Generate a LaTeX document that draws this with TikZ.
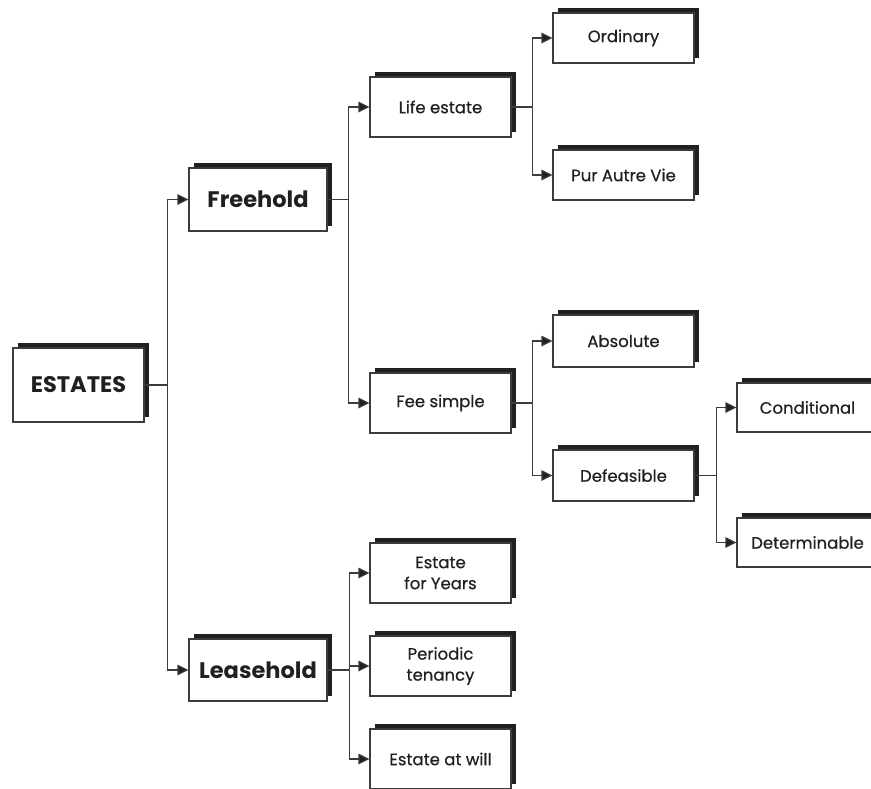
\documentclass[tikz,border=0pt]{standalone}
\usepackage{fontspec}
\setmainfont{Poppins}
\newfontfamily\medfont{Poppins}[FakeBold=0.5]
\usetikzlibrary{arrows.meta,shadows,calc}
\definecolor{ink}{HTML}{231F20}
\definecolor{edge}{HTML}{3C3C3C}
\begin{document}
\begin{tikzpicture}[x=1pt,y=-1pt,
  box/.style={draw=edge,line width=1.1pt,fill=white,text=ink,inner sep=0pt,
    minimum width=141pt,minimum height=60pt,align=center,font=\medfont\fontsize{16.5}{21}\selectfont,
    general shadow={fill=ink,shadow xshift=4.5pt,shadow yshift=5pt}},
  bigbox/.style={box,font=\fontsize{22.5}{24}\selectfont\bfseries},
  small/.style={box,minimum height=50pt},
  conn/.style={draw=edge,line width=1.1pt},
  arr/.style={conn,-{Triangle[length=11pt,width=10.5pt,fill=ink]}}]
\useasboundingbox (0,0) rectangle (871,788);
\fill[white] (0,0) rectangle (871,788);
\begin{scope}
\clip (0,0) rectangle (871,788);
\node[bigbox,minimum width=131pt,minimum height=74pt] (est) at (78.5,385) {ESTATES};
\node[bigbox,minimum width=138pt,minimum height=63pt] (free) at (258,199.5) {Freehold};
\node[bigbox,minimum width=138pt,minimum height=62pt] (lease) at (258,670) {Leasehold};
\node[box] (life) at (440.5,107) {Life estate};
\node[box] (fee) at (440.5,403) {Fee simple};
\node[box] (efy) at (440.5,573) {Estate\\for Years};
\node[box] (per) at (440.5,666) {Periodic\\tenancy};
\node[box] (eaw) at (440.5,759) {Estate at will};
\node[small] (ord) at (623.5,38) {Ordinary};
\node[small] (pav) at (623.5,175) {Pur Autre Vie};
\node[small,minimum height=52pt] (abs) at (623.5,341) {Absolute};
\node[small,minimum height=51pt] (def) at (623.5,475.5) {Defeasible};
\node[small,minimum height=49pt] (cond) at (807.5,407.5) {Conditional};
\node[small,minimum height=49pt] (det) at (807.5,542.5) {Determinable};

\draw[conn] (est.east) -- ++(23,0) coordinate (j0);
\draw[arr] (j0) |- (free.west);
\draw[arr] (j0) |- (lease.west);
\draw[conn] (free.east) -- ++(21,0) coordinate (j1);
\draw[arr] (j1) |- (life.west);
\draw[arr] (j1) |- (fee.west);
\draw[conn] (life.east) -- ++(21,0) coordinate (j2);
\draw[arr] (j2) |- (ord.west);
\draw[arr] (j2) |- (pav.west);
\draw[conn] (fee.east) -- ++(21,0) coordinate (j3);
\draw[arr] (j3) |- (abs.west);
\draw[arr] (j3) |- (def.west);
\draw[conn] (def.east) -- ++(22,0) coordinate (j4);
\draw[arr] (j4) |- (cond.west);
\draw[arr] (j4) |- (det.west);
\draw[conn] (lease.east) -- ++(22,0) coordinate (j5);
\draw[arr] (j5) |- (efy.west);
\draw[arr] (j5) |- (per.west);
\draw[arr] (j5) |- (eaw.west);
\end{scope}
\end{tikzpicture}
\end{document}
